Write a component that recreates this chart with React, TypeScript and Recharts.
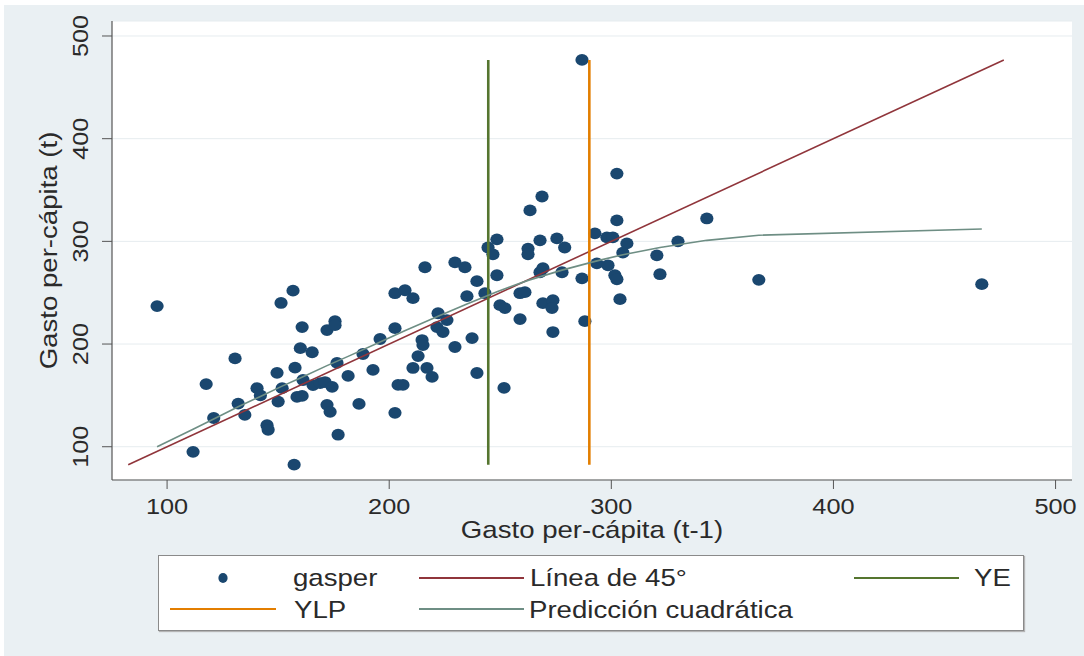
import React from 'react';
import { ScatterChart, Scatter, XAxis, YAxis, CartesianGrid, Label } from 'recharts';

// gasper: lagged per-capita spending (x) vs current (y)
const gasperLag = [
  95.5, 111.7, 117.6, 121, 130.6, 132, 135, 140.5, 142, 145, 145.5, 149.5, 151.3, 150, 151.8,
  156.7, 157.2, 157.6, 160.8, 160, 165.3, 158.5, 160.8, 161.2, 165.7, 168.9, 171.1, 172, 175.6,
  175.6, 176.5, 174.3, 172, 173.4, 177, 181.5, 186.4, 188.2, 192.7, 195.9, 202.6, 202.6, 204,
  202.6, 207.1, 210.7, 216.1, 229.6, 234.1, 239.5, 248.5, 267.9, 269.2, 277.8, 286.8, 293.5,
  298.5, 301.6, 302.5, 321.9, 366.4, 466.8, 235, 243.1, 258.9, 261.1, 249.9, 252.1, 269.2,
  273.7, 273.3, 303.9, 222, 226, 221.5, 224.2, 258.9, 288.1, 273.7, 214.8, 215.2, 213, 210.7,
  217, 219.3, 237.3, 229.6, 239.5, 206.2, 251.7, 286.8, 302.5, 268.8, 263.4, 302.5, 292.6,
  298, 300.7, 307, 330, 248.5, 267.9, 275.5, 279, 244.5, 262.5, 343, 246.7, 262.5, 305.2, 320.5,
];
const gasperCur = [
  237, 95, 161, 128, 186, 142, 131, 157, 150, 121, 116.5, 172, 240, 144, 157,
  252, 82.5, 177, 216.5, 196, 192, 148.5, 149.5, 165, 160, 162, 163, 213.6, 222.3,
  218.4, 181.6, 158.3, 140.8, 134, 111.7, 169, 141.7, 190.3, 174.8, 204.9, 249.5, 215.5, 160.2,
  133, 252.4, 244.7, 274.8, 279.6, 274.8, 261.2, 267, 269.9, 273.8, 269.9, 264, 278.6,
  276.7, 267, 263.1, 268, 262.5, 258.3, 246.6, 249.5, 249.5, 250.5, 237.9, 235, 239.8,
  242.7, 235, 243.7, 230, 223.3, 216.5, 211.7, 224.3, 222.3, 211.7, 203.9, 199, 188.3, 176.7,
  176.7, 168, 205.8, 197.1, 171.8, 160.2, 157.3, 476.7, 366, 343.7, 330.1, 320.4, 307.8,
  303.9, 303.9, 298, 300, 302, 301, 302.9, 294, 294, 293, 322.3, 287.4, 287.4, 289, 286.4,
];

const lineaX = [82.5, 476.7];
const lineaY = [82.5, 476.7];
const yeX = [244.6, 244.6];
const yeY = [82.5, 476.7];
const ylpX = [290.1, 290.1];
const ylpY = [82.5, 476.7];
const predX = [95.5, 111.7, 121, 132, 142, 151.8, 160, 172, 181.5, 195.9, 207, 222, 235, 248.5,
  262.5, 277.8, 293.5, 305.2, 321.9, 343, 366.4, 466.8];
const predY = [100, 117, 127, 139, 149, 159, 167, 179, 188, 202, 213, 227, 239, 251,
  262, 272, 281, 287, 294, 301, 306, 312];

const xTicks = [100, 200, 300, 400, 500];
const yTicks = [100, 200, 300, 400, 500];

const toPts = (xs: number[], ys: number[]) => xs.map((x, i) => ({ x, y: ys[i] }));
const gasperData = toPts(gasperLag, gasperCur);
const lineaData = toPts(lineaX, lineaY);
const yeData = toPts(yeX, yeY);
const ylpData = toPts(ylpX, ylpY);
const predData = toPts(predX, predY);

const NAVY = '#1a476f';
const MAROON = '#90353b';
const GREEN = '#55752f';
const ORANGE = '#e37e00';
const TEAL = '#6e8e84';
const FONT = '"Liberation Sans", Arial, sans-serif';
const TXT = '#2a2a2a';
const SX = 1.15;

const XTick = (props: any) => {
  const { x, y, payload } = props;
  return (
    <text transform={`translate(${x},${y + 25}) scale(${SX},1)`} textAnchor="middle"
      fontSize={22} fontFamily={FONT} fill={TXT}>{payload.value}</text>
  );
};
const YTick = (props: any) => {
  const { x, y, payload } = props;
  return (
    <text transform={`translate(${x - 14},${y}) rotate(-90) scale(${SX},1)`} textAnchor="middle"
      fontSize={22} fontFamily={FONT} fill={TXT}>{payload.value}</text>
  );
};

const XTitle = (props: any) => {
  const vb = props.viewBox || { x: 112, y: 480, width: 960, height: 60 };
  return (
    <text transform={`translate(${vb.x + vb.width / 2},${vb.y + 58}) scale(${SX},1)`} textAnchor="middle"
      fontSize={24} fontFamily={FONT} fill={TXT}>Gasto per-cápita (t-1)</text>
  );
};
const YTitle = (props: any) => {
  const vb = props.viewBox || { x: 0, y: 21, width: 112, height: 459 };
  return (
    <text transform={`translate(${57},${vb.y + vb.height / 2}) rotate(-90) scale(${SX},1)`} textAnchor="middle"
      fontSize={24} fontFamily={FONT} fill={TXT}>Gasto per-cápita (t)</text>
  );
};

const Dot = (props: any) => (
  <ellipse cx={props.cx} cy={props.cy} rx={6.6} ry={5.9} fill={NAVY} />
);
const NoShape = () => <g />;

const LegendText = ({ x, y, children }: { x: number; y: number; children: React.ReactNode }) => (
  <text transform={`translate(${x},${y}) scale(${SX},1)`} fontSize={24} fontFamily={FONT} fill={TXT}>{children}</text>
);

const ChartLegend = () => (
  <svg width={866} height={76} style={{ position: 'absolute', left: 158, top: 555, background: '#fff',
    border: '1px solid #8a8a8a', boxShadow: '1px 1px 1px #b5b5b5', boxSizing: 'border-box' }}>
    <ellipse cx={64} cy={22} rx={4.6} ry={5} fill={NAVY} />
    <LegendText x={134} y={30}>gasper</LegendText>
    <line x1={260} x2={365} y1={22} y2={22} stroke={MAROON} strokeWidth={2} />
    <LegendText x={371} y={30}>Línea de 45°</LegendText>
    <line x1={695} x2={800} y1={22} y2={22} stroke={GREEN} strokeWidth={2} />
    <LegendText x={815} y={30}>YE</LegendText>
    <line x1={11} x2={117} y1={53} y2={53} stroke={ORANGE} strokeWidth={2} />
    <LegendText x={135} y={62}>YLP</LegendText>
    <line x1={260} x2={365} y1={53} y2={53} stroke={TEAL} strokeWidth={2} />
    <LegendText x={370} y={62}>Predicción cuadrática</LegendText>
  </svg>
);

export default function App() {
  return (
    <div style={{ position: 'absolute', left: 0, top: 0, width: 1084, height: 656, background: '#fff', overflow: 'hidden' }}>
      <div style={{ position: 'absolute', left: 4, top: 5, right: 0, bottom: 0, background: '#eaf0f3' }} />
      <div style={{ position: 'absolute', left: 0, top: 0 }}>
        <ScatterChart width={1084} height={656} margin={{ top: 21, right: 12, bottom: 116, left: 0 }}>
          <CartesianGrid vertical={false} fill="#ffffff" stroke="#e6ecef" strokeWidth={1} />
          <XAxis type="number" dataKey="x" domain={[75.2, 507.4]} ticks={xTicks} allowDataOverflow
            height={60} tickSize={9} tickMargin={0} tick={<XTick />} stroke="#555"
            axisLine={{ stroke: '#555', strokeWidth: 1.2 }} tickLine={{ stroke: '#555' }}>
            <Label content={<XTitle />} />
          </XAxis>
          <YAxis type="number" dataKey="y" domain={[67.6, 514.6]} ticks={yTicks} allowDataOverflow
            width={112} tickSize={10} tickMargin={0} tick={<YTick />} stroke="#555"
            axisLine={{ stroke: '#555', strokeWidth: 1.2 }} tickLine={{ stroke: '#555' }}>
            <Label content={<YTitle />} />
          </YAxis>
          <Scatter data={gasperData} shape={<Dot />} isAnimationActive={false} />
          <Scatter data={lineaData} shape={<NoShape />} line={{ stroke: MAROON, strokeWidth: 1.6 }} isAnimationActive={false} />
          <Scatter data={yeData} shape={<NoShape />} line={{ stroke: GREEN, strokeWidth: 2.6 }} isAnimationActive={false} />
          <Scatter data={ylpData} shape={<NoShape />} line={{ stroke: ORANGE, strokeWidth: 2.6 }} isAnimationActive={false} />
          <Scatter data={predData} shape={<NoShape />} line={{ stroke: TEAL, strokeWidth: 1.6 }} isAnimationActive={false} />
        </ScatterChart>
      </div>
      <ChartLegend />
    </div>
  );
}
